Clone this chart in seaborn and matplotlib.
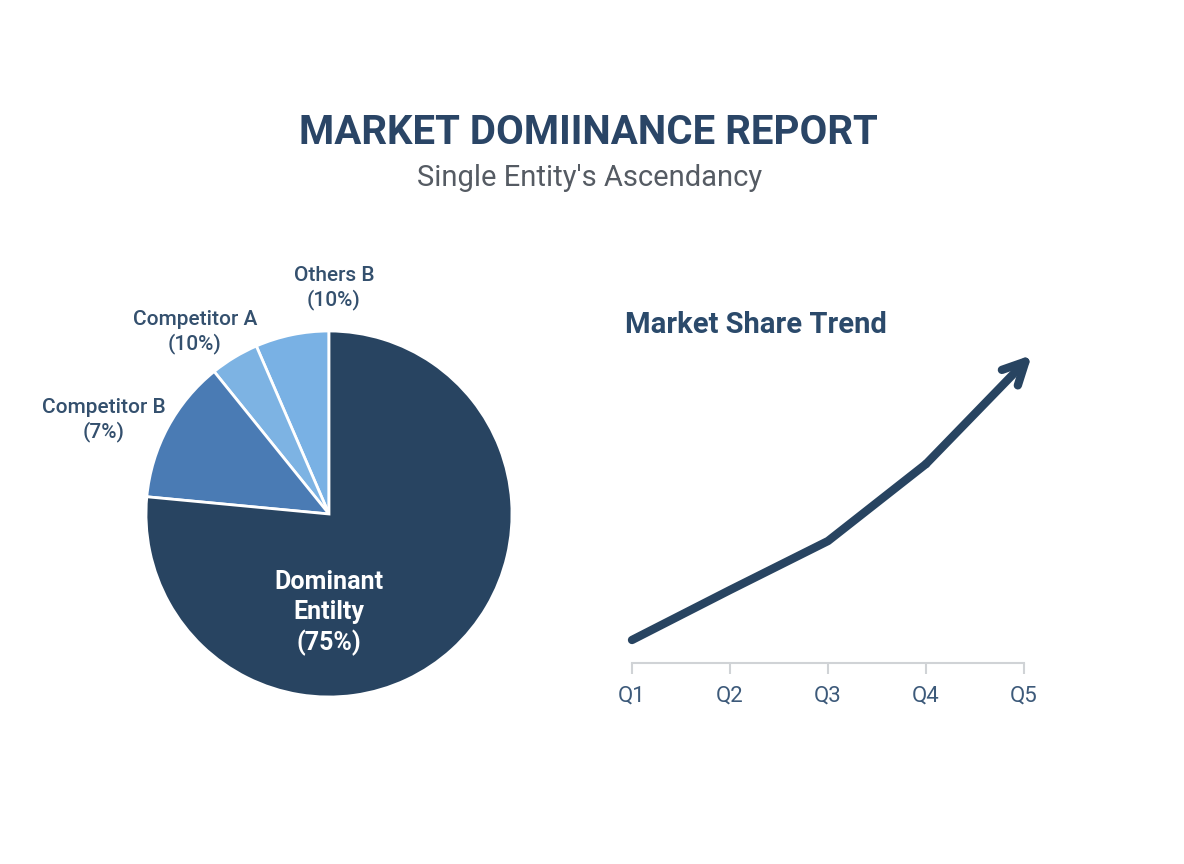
import numpy as np
import matplotlib.pyplot as plt
import pandas as pd
import seaborn as sns

sns.set_theme(style="white")
plt.rcParams['font.family'] = ['Roboto', 'DejaVu Sans']

# pie data (wedge sizes, labels as printed)
segments = ["Others B", "Competitor A", "Competitor B", "Dominant Entity"]
sizes = [6.5, 4.3, 12.7, 76.5]
seg_labels = ["Others B\n(10%)", "Competitor A\n(10%)", "Competitor B\n(7%)", "Dominant\nEntilty\n(75%)"]
seg_colors = ["#79b1e4", "#7db3e3", "#4a7bb4", "#284461"]

# trend data
quarters = ["Q1", "Q2", "Q3", "Q4", "Q5"]
share = [2.3, 7.3, 12.2, 19.9, 30.8]

W, H = 1184, 864
fig = plt.figure(figsize=(W / 100, H / 100), dpi=100)
fig.patch.set_facecolor("white")

def px(x, y):
    return x / W, 1 - y / H

# titles
fig.text(*px(588, 133), "MARKET DOMIINANCE REPORT", ha="center", va="center",
         fontsize=29, fontweight="bold", color="#2a4566")
fig.text(*px(590, 178), "Single Entity's Ascendancy", ha="center", va="center",
         fontsize=21, color="#555b63")

# pie
cx, cy, r = 329, 514, 183
ax1 = fig.add_axes([(cx - r) / W, (H - cy - r) / H, 2 * r / W, 2 * r / H])
ax1.pie(sizes, colors=seg_colors, startangle=90, counterclock=True, radius=1,
        wedgeprops=dict(edgecolor="white", linewidth=2))
ax1.set_xlim(-1, 1)
ax1.set_ylim(-1, 1)
ax1.set_aspect("equal")
ax1.axis("off")

lab_pos = [(334, 288), (195, 332), (104, 420)]
for (x, y), lab in zip(lab_pos, seg_labels[:3]):
    fig.text(*px(x, y), lab, ha="center", va="center", fontsize=15,
             fontweight="medium", color="#34506e", linespacing=1.25)
fig.text(*px(329, 613), seg_labels[3], ha="center", va="center", fontsize=18,
         fontweight="bold", color="white", linespacing=1.3)

# trend line
x0, x1, ybase, ytop = 632, 1024, 663, 353
ax2 = fig.add_axes([x0 / W, (H - ybase) / H, (x1 - x0) / W, (ybase - ytop) / H])
df = pd.DataFrame({"q": np.arange(len(quarters)), "share": share})
sns.lineplot(data=df.iloc[:-1], x="q", y="share", ax=ax2, color="#284461",
             linewidth=6, solid_capstyle="round", clip_on=False)
ax2.annotate("", xy=(4.08, share[4]), xytext=(3, share[3]),
             arrowprops=dict(arrowstyle="->", lw=6, color="#284461",
                             mutation_scale=40, shrinkA=0, shrinkB=0,
                             capstyle="round", joinstyle="round"),
             annotation_clip=False)
ax2.set_xlim(0, 4)
ax2.set_ylim(0, 31)
ax2.set_xticks(df["q"])
ax2.set_xticklabels(quarters, fontsize=16, color="#3d5a7a")
ax2.set_yticks([])
ax2.set_xlabel("")
ax2.set_ylabel("")
for s in ["top", "right", "left"]:
    ax2.spines[s].set_visible(False)
ax2.spines["bottom"].set_color("#d0d3d6")
ax2.spines["bottom"].set_linewidth(1.5)
ax2.tick_params(axis="x", bottom=True, length=8, width=1.5, color="#d0d3d6", pad=8)
ax2.patch.set_alpha(0)

fig.text(*px(625, 325), "Market Share Trend", ha="left", va="center",
         fontsize=21, fontweight="bold", color="#2b4a6b")

fig.savefig("out.png", dpi=100, facecolor="white")
